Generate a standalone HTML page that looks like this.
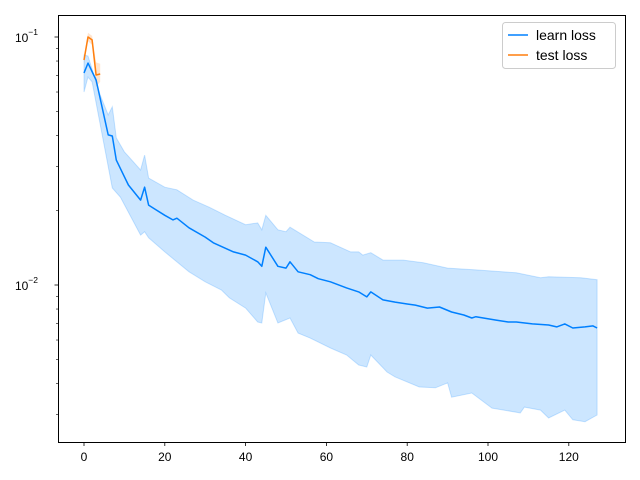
<!DOCTYPE html>
<html><head><meta charset="utf-8"><style>
html,body{margin:0;padding:0;background:#fff;}
svg{display:block;font-family:"Liberation Sans",sans-serif;}
</style></head><body>
<svg id="chart" width="640" height="480" viewBox="0 0 640 480" xmlns="http://www.w3.org/2000/svg">
<rect x="0" y="0" width="640" height="480" fill="#fff"/>
<g id="bands"></g><g id="lines"></g><g id="axes"></g>
<rect x="58.5" y="15.5" width="567" height="427" fill="none" stroke="#000" stroke-width="1"/>
<g>
<rect x="502.5" y="22.5" width="113" height="46" rx="3" fill="#fff" fill-opacity="0.8" stroke="#ccc"/>
<g><line x1="508" y1="35" x2="528" y2="35" stroke="#0080ff" stroke-width="1.5"/><text x="536" y="40" font-size="14">learn loss</text></g>
<g><line x1="508" y1="55" x2="528" y2="55" stroke="#ff7f0e" stroke-width="1.5"/><text x="536" y="60" font-size="14">test loss</text></g>
</g>
</svg>
<script>
const learnEpochs=[0,1,3,6,7,8,11,14,15,16,18,20,22,23,26,30,32,37,40,43,44,45,48,50,51,53,56,58,61,65,68,70,71,74,77,80,82,85,88,91,94,96,97,102,105,107,111,115,117,119,121,124,126,127];
const learnMean=[0.0716,0.0785,0.0671,0.0403,0.0399,0.0319,0.0253,0.0220,0.0248,0.0210,0.0200,0.0191,0.0183,0.0186,0.0170,0.0156,0.0148,0.0136,0.0132,0.0124,0.0119,0.0142,0.0119,0.0117,0.0124,0.0113,0.0110,0.0106,0.0103,0.00973,0.00938,0.00895,0.00938,0.00871,0.00853,0.00838,0.00830,0.00807,0.00815,0.00778,0.00757,0.00736,0.00745,0.00722,0.00709,0.00709,0.00697,0.00690,0.00678,0.00697,0.00671,0.00678,0.00684,0.00671];
const upperEpochs=[0,1,4,6,7,8,10,14,15,16,20,23,27,31,35,40,43,44,45,48,50,51,57,61,66,68,69,71,74,79,84,90,97,107,113,115,123,127];
const learnUpper=[0.0846,0.0838,0.0583,0.0485,0.0523,0.0392,0.0344,0.0291,0.0334,0.0270,0.0248,0.0242,0.0220,0.0206,0.0191,0.0175,0.0178,0.0167,0.0191,0.0167,0.0164,0.0171,0.0149,0.0148,0.0136,0.0136,0.0132,0.0135,0.0126,0.0126,0.0123,0.0117,0.0115,0.0112,0.0107,0.0108,0.0107,0.0105];
const lowerEpochs=[0,1,2,7,9,14,15,16,20,26,30,34,36,40,43,44,45,48,51,53,56,61,65,68,70,71,75,77,83,87,90,91,96,101,108,109,113,115,119,121,124,127];
const learnLower=[0.0600,0.0690,0.0659,0.0246,0.0226,0.0159,0.0164,0.0155,0.0136,0.0113,0.0103,0.00955,0.00887,0.00807,0.00709,0.00703,0.00929,0.00703,0.00736,0.00640,0.00611,0.00557,0.00522,0.00476,0.00467,0.00522,0.00446,0.00426,0.00388,0.00385,0.00403,0.00353,0.00367,0.00319,0.00305,0.00322,0.00313,0.00291,0.00313,0.00286,0.00281,0.00299];
const testEpochs=[0,1,2,3,4];
const testMean=[0.0808,0.100,0.0973,0.0703,0.0709];
const testUpper=[0.084,0.104,0.101,0.079,0.078];
const testLower=[0.078,0.096,0.093,0.063,0.066];
const xTicks=[0,20,40,60,80,100,120];

const NS="http://www.w3.org/2000/svg";
const X0=84,XS=4.04,Y1=37,DEC=248;
const xs=e=>X0+XS*e;
const ys=v=>Y1-(Math.log10(v)+1)*DEC;
function mk(tag,attrs,parent){const el=document.createElementNS(NS,tag);for(const k in attrs)el.setAttribute(k,attrs[k]);parent.appendChild(el);return el;}
function poly(ep,vals){return ep.map((e,i)=>xs(e).toFixed(1)+","+ys(vals[i]).toFixed(1));}
const bands=document.getElementById('bands'),lines=document.getElementById('lines'),axes=document.getElementById('axes');
// learn band
let p=poly(upperEpochs,learnUpper).concat(poly(lowerEpochs,learnLower).reverse());
let b=mk('polygon',{points:p.join(' '),fill:'#0080ff','fill-opacity':0.2,stroke:'#0080ff','stroke-opacity':0.2},bands);


p=poly(testEpochs,testUpper).concat(poly(testEpochs,testLower).reverse());
b=mk('polygon',{points:p.join(' '),fill:'#ff7f0e','fill-opacity':0.2,stroke:'none'},bands);


let l=mk('polyline',{points:poly(learnEpochs,learnMean).join(' '),fill:'none',stroke:'#0080ff','stroke-width':1.5,'stroke-linejoin':'round'},lines);


l=mk('polyline',{points:poly(testEpochs,testMean).join(' '),fill:'none',stroke:'#ff7f0e','stroke-width':1.5,'stroke-linejoin':'round'},lines);


// x ticks
xTicks.forEach(t=>{const x=xs(t);
 const tk=mk('line',{x1:x,y1:442,x2:x,y2:446,stroke:'#000','stroke-width':0.8},axes);
 
 
 const tx=mk('text',{x:x,y:461,'font-size':12,'text-anchor':'middle'},axes);tx.textContent=t;
 
 });
// y ticks
[[0.1,'-1'],[0.01,'-2']].forEach(([v,ex])=>{const y=ys(v);
 const tk=mk('line',{x1:54.5,y1:y,x2:58,y2:y,stroke:'#000','stroke-width':0.8},axes);
 
 
 const tx=mk('text',{x:38,y:y+5,'font-size':12,'text-anchor':'end'},axes);
 
 
 tx.textContent='10';
 const sp=mk('tspan',{dy:-7,'font-size':8.5},tx);sp.textContent='\u2212'+ex.slice(1);});
[0.003,0.004,0.005,0.006,0.007,0.008,0.009,0.02,0.03,0.04,0.05,0.06,0.07,0.08,0.09].forEach(v=>{const y=ys(v);
 const tk=mk('line',{x1:56,y1:y,x2:58,y2:y,stroke:'#000','stroke-width':0.6},axes);
 
 });
</script>
</body></html>
